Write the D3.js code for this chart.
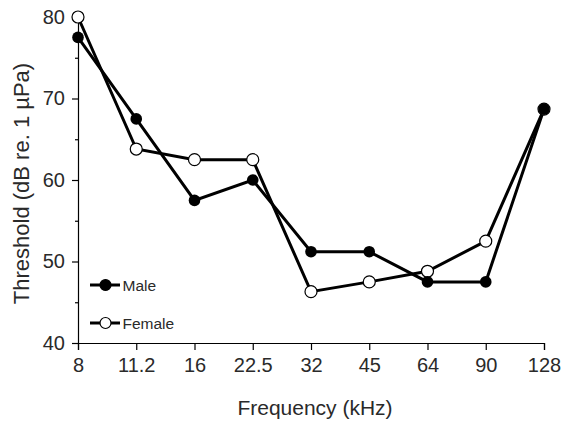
<!DOCTYPE html>
<html><head><meta charset="utf-8">
<script src="https://cdn.jsdelivr.net/npm/d3@7"></script>
<style>body{margin:0;background:#fff}svg{display:block}text{font-family:"Liberation Sans",Arial,sans-serif;fill:#2a2a2a}</style>
</head><body><svg id="c" width="563" height="423"></svg>
<script>
const frequencies = ["8","11.2","16","22.5","32","45","64","90","128"];
const male   = [77.5, 67.5, 57.5, 60.0, 51.2, 51.2, 47.5, 47.5, 68.7];
const female = [80.0, 63.8, 62.5, 62.5, 46.3, 47.5, 48.8, 52.5, 68.7];
const yMajor = [40, 50, 60, 70, 80];
const yMinor = [45, 55, 65, 75];

const svg = d3.select("#c");
const x = d3.scalePoint().domain(frequencies).range([78, 544]);
const y = d3.scaleLinear().domain([40, 80]).range([343, 17]);

// axes
const xa = svg.append("g").attr("transform","translate(0,343)")
  .call(d3.axisBottom(x).tickSize(7).tickPadding(8));
const ya = svg.append("g").attr("transform","translate(78,0)")
  .call(d3.axisLeft(y).tickValues(yMajor).tickSize(6).tickPadding(7));
svg.append("g").attr("transform","translate(78,0)")
  .call(d3.axisLeft(y).tickValues(yMinor).tickSize(3).tickFormat(""))
  .select(".domain").remove();
[xa, ya].forEach(a=>{
  a.selectAll("text").style("font-size","20px").attr("fill","#2a2a2a").style("font-family",'"Liberation Sans",Arial,sans-serif');
});
svg.selectAll("g line, g path.domain").attr("stroke","#000").attr("stroke-width",1.2);

// axis titles
svg.append("text").attr("x",315).attr("y",415).attr("text-anchor","middle")
  .style("font-size","21px").text("Frequency (kHz)");
svg.append("text").attr("transform","translate(28.5,183.5) rotate(-90)").attr("text-anchor","middle")
  .style("font-size","22px").text("Threshold (dB re. 1 µPa)");

const line = d3.line().x((d,i)=>x(frequencies[i])).y(d=>y(d));
function series(vals){
  svg.append("path").datum(vals).attr("d",line).attr("fill","none")
    .attr("stroke","#000").attr("stroke-width",3).attr("stroke-linejoin","miter");
}
series(male); series(female);
svg.append("g").selectAll("circle").data(female).join("circle")
  .attr("cx",(d,i)=>x(frequencies[i])).attr("cy",d=>y(d)).attr("r",6)
  .attr("fill","#fff").attr("stroke","#000").attr("stroke-width",1.2);
svg.append("g").selectAll("circle").data(male).join("circle")
  .attr("cx",(d,i)=>x(frequencies[i])).attr("cy",d=>y(d)).attr("r",5.8)
  .attr("fill","#000");

// legend
const leg = [{name:"Male", filled:true, y:285},{name:"Female", filled:false, y:323}];
leg.forEach(l=>{
  svg.append("line").attr("x1",90).attr("x2",120).attr("y1",l.y).attr("y2",l.y)
    .attr("stroke","#000").attr("stroke-width",3);
  svg.append("circle").attr("cx",105.5).attr("cy",l.y).attr("r",5.5)
    .attr("fill",l.filled?"#000":"#fff").attr("stroke","#000").attr("stroke-width",1.2);
  svg.append("text").attr("x",122.5).attr("y",l.y+5.5).style("font-size","15.5px").text(l.name);
});
</script></body></html>
